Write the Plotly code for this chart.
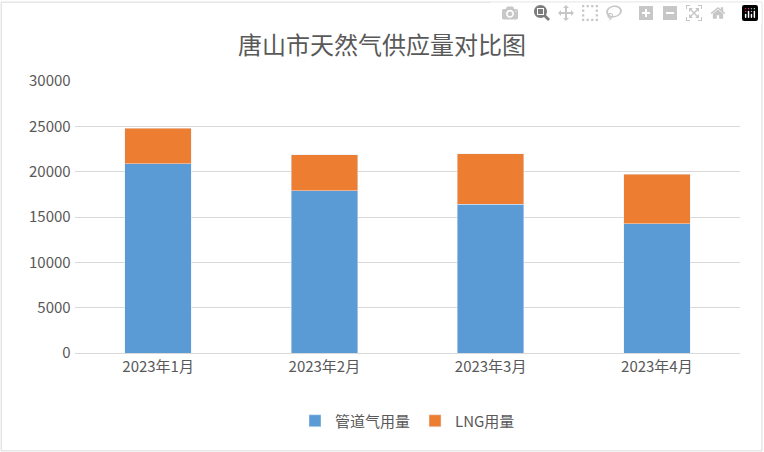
import plotly.graph_objects as go

categories = ["2023年1月", "2023年2月", "2023年3月", "2023年4月"]
pipeline = [20850, 17870, 16430, 14230]
lng = [3950, 3970, 5520, 5510]

fig = go.Figure()
fig.add_bar(x=categories, y=pipeline, name="管道气用量", marker_color="#5B9BD5", width=0.4)
fig.add_bar(x=categories, y=lng, name="LNG用量", marker_color="#ED7D31", width=0.4)

fig.update_layout(
    barmode="stack",
    width=764, height=452,
    paper_bgcolor="white", plot_bgcolor="white",
    font=dict(family="Noto Sans CJK SC", color="#595959", size=14),
    title=dict(text="唐山市天然气供应量对比图", x=0.5, xanchor="center", y=0.9, yanchor="middle",
               font=dict(size=24, color="#595959")),
    margin=dict(l=75, r=24, t=81, b=99),
    legend=dict(orientation="h", x=0.5, xanchor="center", y=-0.25, yanchor="middle",
                traceorder="normal", font=dict(size=15, color="#595959")),
    xaxis=dict(showline=True, linecolor="#D9D9D9", ticks="", tickfont=dict(size=15)),
    yaxis=dict(range=[0, 30000], dtick=5000, tickformat="d", gridcolor="#D9D9D9", zeroline=False,
               showline=False, tickfont=dict(size=15), ticksuffix=" "),
    shapes=[dict(type="rect", xref="paper", yref="paper", x0=-0.111, x1=1.033, y0=-0.36, y1=1.29,
                 line=dict(color="#D9D9D9", width=1))],
)
fig.write_html("out.html", post_script="document.body.style.margin='0';")
